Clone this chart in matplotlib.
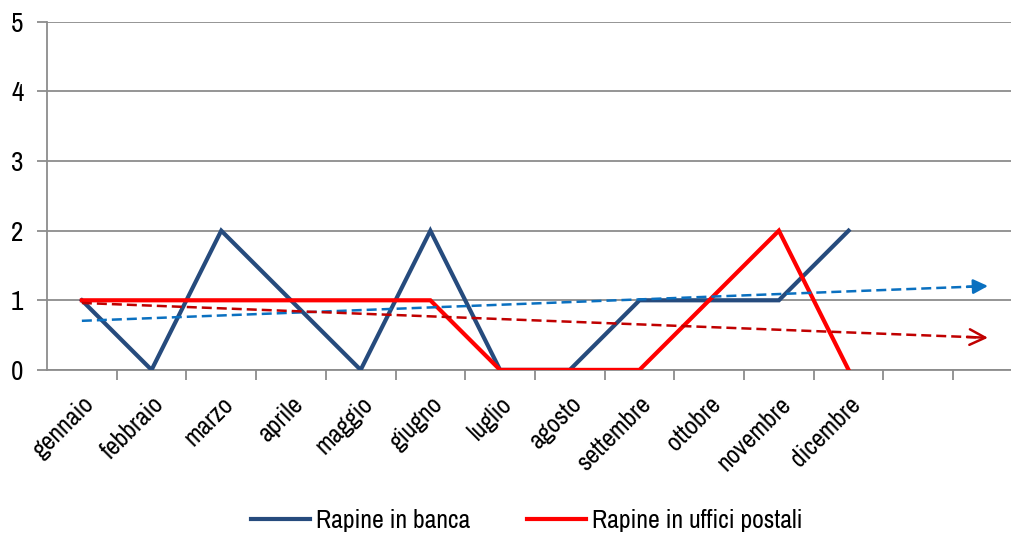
import numpy as np
import matplotlib.pyplot as plt

# Data
mesi = ["gennaio", "febbraio", "marzo", "aprile", "maggio", "giugno", "luglio",
        "agosto", "settembre", "ottobre", "novembre", "dicembre"]
banca = [1, 0, 2, 1, 0, 2, 0, 0, 1, 1, 1, 2]
postali = [1, 1, 1, 1, 1, 1, 0, 0, 0, 1, 2, 0]
n_slots = 14  # two empty categories after dicembre

# Narrow font, with fallbacks
plt.rcParams["font.family"] = ["Archivo Narrow", "Liberation Sans Narrow", "DejaVu Sans"]

fig = plt.figure(figsize=(10.11, 5.33), dpi=100)
# plot area runs slightly past the right edge of the picture, as in the original
ax = fig.add_axes([0.0465, 0.306, 0.9652, 0.653])

x = np.arange(len(mesi))
blue = "#264B7D"
red = "#FF0000"

ax.plot(x, banca, color=blue, lw=3.0, solid_joinstyle="miter", zorder=3, label="Rapine in banca")
ax.plot(x, postali, color=red, lw=3.0, solid_joinstyle="miter", zorder=4, label="Rapine in uffici postali")

# Linear trend lines, extended two periods forward
xt = np.arange(n_slots, dtype=float)
xt[-1] -= 0.15
for serie, col, style, ms in [(banca, "#0A70C0", "-|>", 22), (postali, "#C00000", "->", 28)]:
    m, q = np.polyfit(x, serie, 1)
    ax.plot(xt, m * xt + q, color=col, lw=1.8, dashes=(4, 2), zorder=5)
    x_end = n_slots - 1
    ax.annotate("", xy=(x_end, m * x_end + q), xytext=(x_end - 0.3, m * (x_end - 0.3) + q),
                arrowprops=dict(arrowstyle=style, color=col, lw=1.8,
                                mutation_scale=ms, shrinkA=0, shrinkB=0),
                zorder=5)

ax.set_xlim(-0.5, n_slots - 0.5)
ax.set_ylim(0, 5)
ax.set_yticks(range(6))
ax.yaxis.grid(True, color="#8C8C8C", lw=1.3)
ax.set_axisbelow(True)

ax.set_xticks(x)
ax.set_xticklabels(mesi, rotation=45, ha="right", rotation_mode="anchor", fontsize=18.5)
ax.set_xticks(np.arange(0.5, n_slots), minor=True)
ax.tick_params(axis="x", which="major", length=0, pad=16)
ax.tick_params(axis="x", which="minor", length=7, width=1.3, color="#8C8C8C", direction="out")
ax.tick_params(axis="y", length=7, width=1.3, color="#8C8C8C", labelsize=19.5, pad=10)

for s in ["top", "right"]:
    ax.spines[s].set_visible(False)
for s in ["left", "bottom"]:
    ax.spines[s].set_color("#8C8C8C")
    ax.spines[s].set_linewidth(1.3)

fig.legend(loc="lower center", bbox_to_anchor=(0.521, -0.042), ncol=2, frameon=False,
           fontsize=18.5, handlelength=2.3, columnspacing=2.2, handletextpad=0.25)

fig.savefig("out.png", dpi=100)
